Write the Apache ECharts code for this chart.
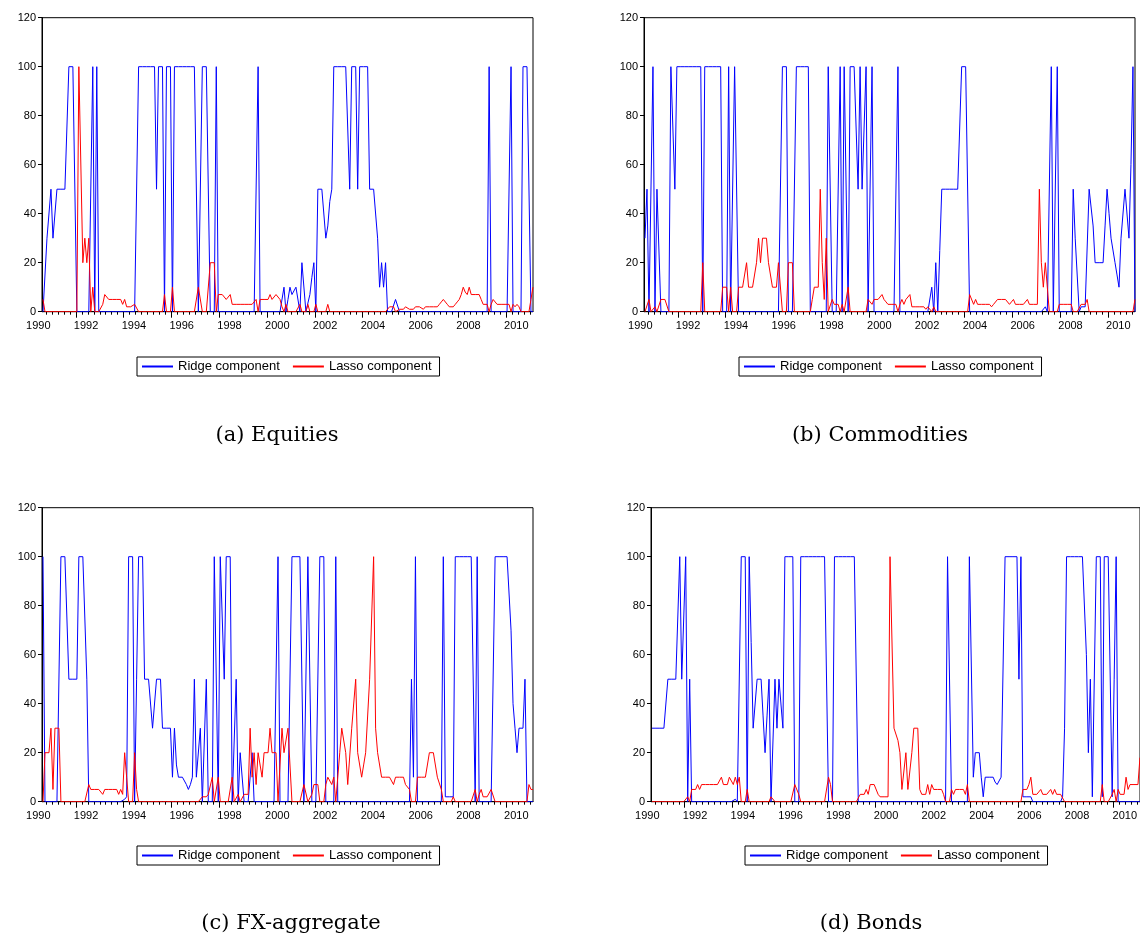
<!DOCTYPE html>
<html><head><meta charset="utf-8">
<script src="https://cdn.jsdelivr.net/npm/echarts@6/dist/echarts.min.js"></script>
<style>html,body{margin:0;padding:0;background:#fff}#c{width:1140px;height:938px}</style>
</head><body><div id="c"></div>
<script>
// first monthly observation: August 1990
const START_YEAR = 1990, START_MONTH = 8;
const xLabelYears = [1990,1992,1994,1996,1998,2000,2002,2004,2006,2008,2010];
const yTickMax = 120, yTickStep = 20;
const seriesNames = ['Ridge component','Lasso component'];
const captions = ['(a) Equities','(b) Commodities','(c) FX-aggregate','(d) Bonds'];

// (a) Equities
const ridgeA = [
0,0,30,30,50,30,30,50,50,50,50,50,
50,100,100,100,100,0,0,0,0,0,0,0,
0,100,0,100,0,0,0,0,0,0,0,0,
0,0,0,0,0,0,0,0,0,0,0,0,
100,100,100,100,100,100,100,100,100,50,100,100,
100,0,100,100,100,0,100,100,100,100,100,100,
100,100,100,100,100,100,0,0,100,100,100,100,
0,0,0,100,0,0,0,0,0,0,0,0,
0,0,0,0,0,0,0,0,0,0,0,0,
100,0,0,0,0,0,0,0,0,0,0,0,
0,10,0,5,10,7,7,10,10,0,20,20,
0,0,7,14,20,0,50,50,50,50,30,35,
45,50,100,100,100,100,100,100,100,100,50,100,
100,100,50,100,100,100,100,100,50,50,50,50,
30,10,20,10,20,0,0,0,0,5,5,0,
0,0,0,0,0,0,0,0,0,0,0,0,
0,0,0,0,0,0,0,0,0,0,0,0,
0,0,0,0,0,0,0,0,0,0,0,0,
0,0,0,0,0,0,0,0,100,0,0,0,
0,0,0,0,0,0,0,100,0,0,0,0,
0,100,100,100,100,0,0];
const lassoA = [
5,0,0,0,0,0,0,0,0,0,0,0,
0,0,0,0,0,0,100,100,20,30,20,30,
0,10,0,0,0,0,3,7,7,5,5,5,
5,5,5,5,3,5,2,2,2,2,3,3,
0,0,0,0,0,0,0,0,0,0,0,0,
0,7,0,0,0,10,0,0,0,0,0,0,
0,0,0,0,0,0,10,10,0,0,0,0,
20,20,20,0,7,7,7,7,5,6,7,3,
3,3,3,3,3,3,3,3,3,3,3,5,
0,5,5,5,5,5,7,5,5,7,7,5,
2,0,3,0,0,0,0,0,0,3,0,0,
0,3,0,0,0,3,0,0,0,0,0,3,
0,0,0,0,0,0,0,0,0,0,0,0,
0,0,0,0,0,0,0,0,0,0,0,0,
0,0,0,0,0,0,2,2,2,0,0,1,
1,1,2,2,1,1,1,2,2,2,2,1,
2,2,2,2,2,2,2,3,4,5,5,3,
2,2,2,3,4,5,7,10,8,7,10,7,
7,7,7,7,5,3,3,3,0,3,5,5,
3,3,3,3,3,3,3,0,3,2,3,2,
0,0,0,0,0,5,10];

// (b) Commodities
const ridgeB = [
30,50,0,0,100,0,50,50,0,0,0,0,
0,100,100,50,100,100,100,100,100,100,100,100,
100,100,100,100,100,0,100,100,100,100,100,100,
100,100,100,0,0,0,100,0,0,100,100,0,
0,0,0,0,0,0,0,0,0,0,0,0,
0,0,0,0,0,0,0,0,0,100,100,100,
0,0,0,0,100,100,100,100,100,100,100,0,
0,0,0,0,0,0,0,0,100,100,0,0,
0,0,100,0,100,100,0,100,100,100,100,50,
100,50,50,100,0,0,100,0,0,0,0,0,
0,0,0,0,0,0,0,100,0,0,0,0,
0,0,0,0,0,0,0,0,0,0,0,0,
10,0,20,0,25,50,50,50,50,50,50,50,
50,50,50,100,100,100,100,0,0,0,0,0,
0,0,0,0,0,0,0,0,0,0,0,0,
0,0,0,0,0,0,0,0,0,0,0,0,
0,0,0,0,0,0,0,0,0,2,0,0,
100,0,0,100,0,0,0,0,0,0,0,50,
30,30,0,2,2,2,2,50,50,35,20,20,
20,20,20,35,50,40,30,30,20,15,10,30,
30,50,50,30,60,100,0];
const lassoB = [
0,0,5,0,0,2,0,0,5,5,5,5,
0,0,0,0,0,0,0,0,0,0,0,0,
0,0,0,0,0,20,0,0,0,0,0,0,
0,0,0,10,10,10,0,10,0,0,0,10,
10,10,10,20,10,10,10,10,20,30,20,30,
30,30,20,20,10,10,10,20,20,0,0,0,
20,20,20,0,0,0,0,0,0,0,0,0,
5,10,10,10,50,20,5,30,0,0,5,3,
3,3,0,3,0,0,10,0,0,0,0,0,
0,0,0,0,5,5,3,5,5,5,5,7,
5,4,3,3,3,3,3,0,3,5,3,5,
6,7,2,2,2,2,2,2,2,1,2,2,
0,2,0,0,0,0,0,0,0,0,0,0,
0,0,0,0,0,0,0,7,7,3,5,3,
3,3,3,3,3,3,2,3,3,5,5,5,
5,5,5,3,4,5,3,3,3,3,3,3,
5,3,3,3,3,3,50,20,10,20,20,0,
0,0,0,0,3,3,3,3,3,3,3,0,
0,0,0,3,3,3,5,0,0,0,0,0,
0,0,0,0,0,0,0,0,0,0,0,0,
0,0,0,0,0,0,5];

// (c) FX-aggregate
const ridgeC = [
100,0,0,0,0,0,0,0,0,100,100,100,
100,50,50,50,50,50,100,100,100,100,50,0,
0,0,0,0,0,0,0,0,0,0,0,0,
0,0,0,0,0,1,2,100,100,100,0,50,
100,100,100,50,50,50,50,30,30,50,50,50,
30,30,30,30,30,10,30,15,10,10,10,10,
7,5,7,10,50,10,10,30,0,0,50,0,
0,0,100,100,0,100,100,50,100,100,100,0,
0,50,0,20,20,0,0,0,0,20,0,0,
0,0,0,0,0,0,0,0,0,0,100,0,
0,0,0,0,0,100,100,100,100,100,100,0,
0,100,100,0,0,0,0,100,100,100,0,0,
0,0,0,100,0,0,0,0,0,0,0,0,
0,0,0,0,0,0,0,0,0,0,0,0,
0,0,0,0,0,0,0,0,0,0,0,0,
0,0,0,0,0,50,10,100,0,0,0,0,
0,0,0,0,0,0,0,0,0,100,2,2,
2,2,2,100,100,100,100,100,100,100,100,100,
100,0,100,0,0,0,0,0,0,0,0,100,
100,100,100,100,100,100,100,70,40,30,20,30,
30,30,50,0,0,0,0];
const lassoC = [
0,20,20,20,30,5,30,30,30,0,0,0,
0,0,0,0,0,0,0,0,0,0,0,7,
5,5,5,5,5,5,3,5,5,5,5,5,
5,5,3,5,3,20,10,0,0,0,20,5,
0,0,0,0,0,0,0,0,0,0,0,0,
0,0,0,0,0,0,0,0,0,0,0,0,
0,0,0,0,0,0,0,0,2,2,2,3,
3,10,0,0,10,0,0,0,0,0,0,10,
0,0,3,0,0,3,3,3,30,10,20,7,
20,20,10,20,20,20,30,20,20,20,0,0,
30,20,20,30,30,0,0,0,0,0,0,7,
7,0,0,3,7,7,7,0,0,0,7,10,
10,7,10,0,0,20,30,30,20,7,7,30,
30,50,20,20,10,15,20,20,50,50,100,30,
20,20,10,10,10,10,10,10,7,10,10,10,
10,10,7,7,5,0,0,0,10,10,10,10,
10,10,20,20,20,20,10,10,5,0,0,0,
0,0,2,0,0,0,0,0,0,0,0,0,
0,5,0,3,5,2,2,2,2,5,5,0,
0,0,0,0,0,0,0,0,0,0,0,0,
0,0,0,0,7,5,5];

// (d) Bonds
const ridgeD = [
30,30,30,30,30,30,30,30,50,50,50,50,
50,50,100,50,50,100,0,50,0,0,0,0,
0,0,0,0,0,0,0,0,0,0,0,0,
0,0,0,0,0,0,1,0,0,100,100,100,
0,100,65,30,30,50,50,50,35,20,35,50,
0,0,50,30,50,50,30,100,100,100,100,100,
0,0,0,100,100,100,100,100,100,100,100,100,
100,100,100,100,100,0,0,0,100,100,100,100,
100,100,100,100,100,100,100,100,0,0,0,0,
0,0,0,0,0,0,0,0,0,0,0,0,
0,0,0,0,0,0,0,0,0,0,0,0,
0,0,0,0,0,0,0,0,0,0,0,0,
0,0,0,0,0,100,100,0,0,0,0,0,
0,0,0,0,100,100,10,20,20,20,10,2,
10,10,10,10,10,8,7,7,10,10,100,100,
100,100,100,100,100,50,100,2,2,2,2,2,
0,0,0,0,0,0,0,0,0,0,0,0,
0,0,0,2,30,100,100,100,100,100,100,100,
100,100,100,60,20,50,2,2,100,100,100,2,
100,100,100,100,2,50,100,0,0,0,0,0,
0,0,0,0,0,0,0];
const lassoD = [
0,0,0,0,0,0,0,0,0,0,0,0,
0,0,0,0,0,0,2,0,5,5,5,7,
5,7,7,7,7,7,7,7,7,7,7,10,
7,7,7,10,10,7,10,7,10,0,0,0,
5,0,0,0,0,0,0,0,0,0,0,0,
2,2,0,0,0,0,0,0,0,0,0,0,
7,7,3,0,0,0,0,0,0,0,0,0,
0,0,0,0,0,10,7,0,0,0,0,0,
0,0,0,0,0,0,0,0,0,3,3,3,
5,3,7,7,7,7,3,2,2,2,2,2,
100,100,30,30,25,20,5,5,20,5,5,20,
30,30,30,5,3,3,3,7,3,7,5,5,
5,5,5,3,0,0,0,5,3,5,5,5,
5,5,3,7,0,0,0,0,0,0,0,0,
0,0,0,0,0,0,0,0,0,0,0,0,
0,0,0,0,0,0,0,5,5,5,7,10,
3,3,3,3,5,3,3,3,3,5,3,5,
3,3,3,3,0,0,0,0,0,0,0,0,
0,0,0,0,0,0,0,0,0,0,0,7,
0,0,0,0,3,5,0,5,3,3,3,10,
5,7,7,7,7,7,18];

const panelData = [[ridgeA,lassoA],[ridgeB,lassoB],[ridgeC,lassoC],[ridgeD,lassoD]];

// ---- layout ----
const PPY = 23.9;           // pixels per year
const W = 491, H = 294;
const XMIN = START_YEAR + (START_MONTH - 1) / 12;
const XMAX = XMIN + W / PPY;
const panels = [
  {left: 42,  top: 17.7,  capX: 277, capY: 436, legLeft: 137, legTop: 357},
  {left: 644, top: 17.7,  capX: 880, capY: 436, legLeft: 739, legTop: 357},
  {left: 42,  top: 507.7, capX: 291, capY: 924, legLeft: 137, legTop: 846},
  {left: 651, top: 507.7, capX: 871, capY: 924, legLeft: 745, legTop: 846}
];
const colors = ['#0000ff', '#ff0000'];
const FONT = '"Liberation Sans", Arial, sans-serif';

const quarterTicks = [];
for (let i = Math.ceil(XMIN * 4); i <= Math.floor(XMAX * 4); i++) quarterTicks.push(i / 4);
const longTicks = xLabelYears.filter(y => y >= XMIN && y <= XMAX);

const dateOf = k => START_YEAR + (START_MONTH - 1 + k + 0.5) / 12;
// internal (unique) series id per panel; legend shows only the part before '|'
const sid = (s, i) => seriesNames[s] + '|' + i;

const option = {animation: false, grid: [], xAxis: [], yAxis: [], series: [], legend: [], graphic: []};

panels.forEach((p, i) => {
  const extra = (XMIN - START_YEAR) * PPY;
  option.grid.push({left: p.left, top: p.top, width: W, height: H, show: true,
    borderColor: '#000', borderWidth: 1, backgroundColor: 'transparent'});
  option.grid.push({left: p.left - extra - 2, top: p.top, width: W + extra, height: H, show: false});

  // main x axis: line + quarterly ticks
  option.xAxis.push({type: 'value', gridIndex: 2 * i, min: XMIN, max: XMAX, position: 'bottom',
    axisLine: {show: true, lineStyle: {color: '#000', width: 1}},
    axisTick: {show: true, inside: false, length: 3, customValues: quarterTicks, lineStyle: {color: '#000'}},
    axisLabel: {show: false}, splitLine: {show: false}});
  // long ticks every two years
  option.xAxis.push({type: 'value', gridIndex: 2 * i, min: XMIN, max: XMAX, position: 'bottom',
    axisLine: {show: false},
    axisTick: {show: true, inside: false, length: 6, customValues: longTicks, lineStyle: {color: '#000'}},
    axisLabel: {show: false}, splitLine: {show: false}});
  // labels (left aligned at the year tick)
  option.xAxis.push({type: 'value', gridIndex: 2 * i + 1, min: START_YEAR, max: XMAX, position: 'bottom',
    axisLine: {show: false}, axisTick: {show: false}, splitLine: {show: false},
    axisLabel: {show: true, customValues: xLabelYears, align: 'left', margin: 9,
      formatter: v => String(Math.round(v)), color: '#000', fontSize: 11, fontFamily: FONT}});

  option.yAxis.push({type: 'value', gridIndex: 2 * i, min: 0, max: yTickMax, interval: yTickStep,
    axisLine: {show: true, lineStyle: {color: '#000', width: 1}},
    axisTick: {show: true, inside: false, length: 4, lineStyle: {color: '#000'}},
    axisLabel: {color: '#000', fontSize: 11, fontFamily: FONT, margin: 6},
    splitLine: {show: false}});
  option.yAxis.push({type: 'value', gridIndex: 2 * i + 1, min: 0, max: yTickMax, show: false});

  panelData[i].forEach((arr, s) => {
    option.series.push({type: 'line', name: sid(s, i), xAxisIndex: 3 * i, yAxisIndex: 2 * i,
      data: arr.map((v, k) => [dateOf(k), v]),
      symbol: 'none', showSymbol: false, clip: true, z: s === 0 ? 3 : 4,
      color: colors[s],
      lineStyle: {color: colors[s], width: 1}, itemStyle: {color: colors[s]}});
  });

  // default line-series legend icon; itemHeight 1 makes its centre marker vanish into the line
  option.legend.push({left: p.legLeft, top: p.legTop, orient: 'horizontal',
    data: seriesNames.map((n, s) => sid(s, i)),
    formatter: name => name.split('|')[0],
    itemWidth: 31, itemHeight: 1, itemGap: 12, padding: [3, 8, 3, 4],
    borderColor: '#000', borderWidth: 1, selectedMode: false,
    textStyle: {color: '#000', fontSize: 13, fontFamily: FONT}});

  option.graphic.push({type: 'text', x: p.capX, y: p.capY,
    style: {text: captions[i], fill: '#000', font: '21px "DejaVu Serif"',
      align: 'center', verticalAlign: 'middle', textAlign: 'center', textVerticalAlign: 'middle'}});
});

const chart = echarts.init(document.getElementById('c'), null, {renderer: 'canvas'});
chart.setOption(option);
</script>
</body></html>
